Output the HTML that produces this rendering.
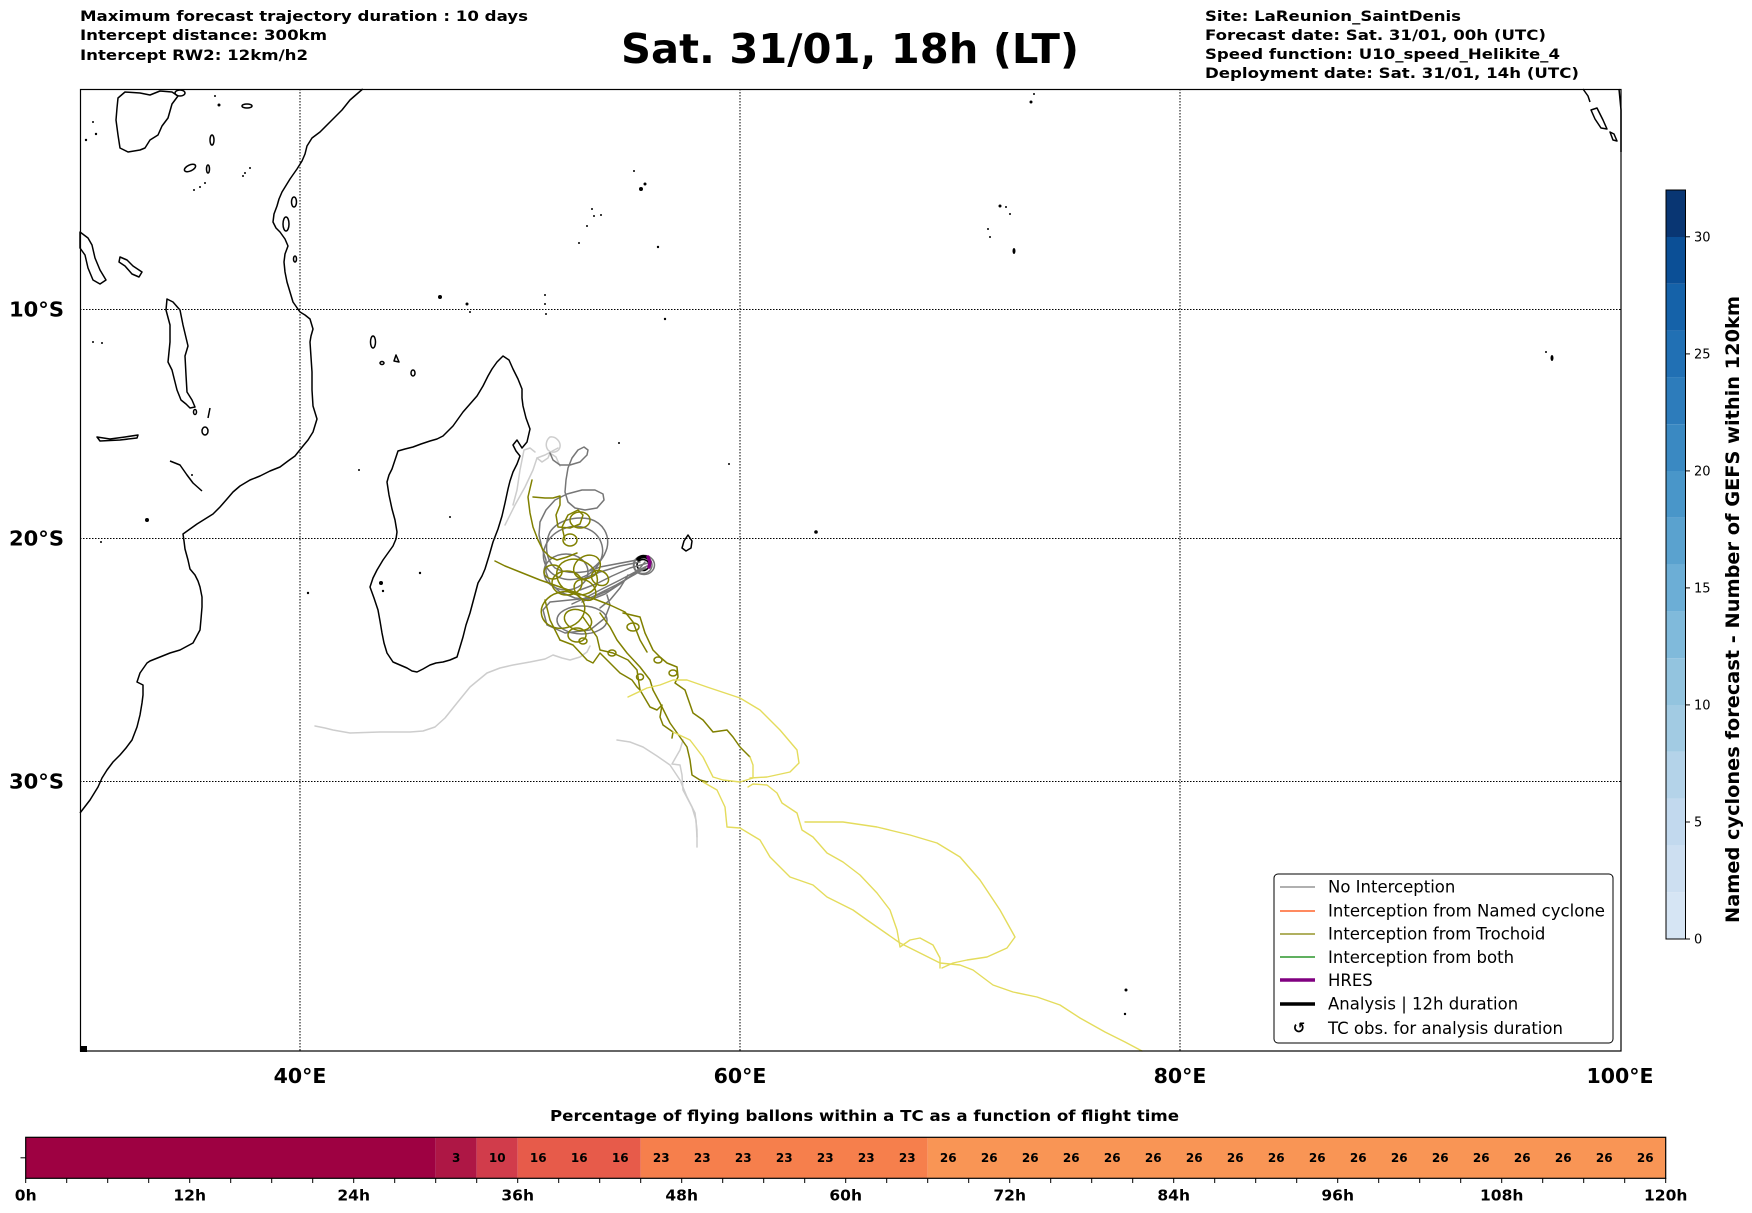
<!DOCTYPE html>
<html><head><meta charset="utf-8">
<style>
html,body{margin:0;padding:0;background:#fff;}
svg{display:block;}
text{font-family:"DejaVu Sans","Liberation Sans",sans-serif;}
.b{font-weight:bold;}
</style></head>
<body>
<svg width="1752" height="1213" viewBox="0 0 1752 1213" xmlns="http://www.w3.org/2000/svg">
<rect x="0" y="0" width="1752" height="1213" fill="#fff"/>

<!-- Header texts -->
<g class="b" font-size="14.5" fill="#000">
<text x="80" y="21" textLength="448" lengthAdjust="spacingAndGlyphs">Maximum forecast trajectory duration : 10 days</text>
<text x="80" y="40" textLength="247" lengthAdjust="spacingAndGlyphs">Intercept distance: 300km</text>
<text x="80" y="60" textLength="228" lengthAdjust="spacingAndGlyphs">Intercept RW2: 12km/h2</text>
<text x="1205" y="21" textLength="256" lengthAdjust="spacingAndGlyphs">Site: LaReunion_SaintDenis</text>
<text x="1205" y="40" textLength="341" lengthAdjust="spacingAndGlyphs">Forecast date: Sat. 31/01, 00h (UTC)</text>
<text x="1205" y="59" textLength="355" lengthAdjust="spacingAndGlyphs">Speed function: U10_speed_Helikite_4</text>
<text x="1205" y="78" textLength="374" lengthAdjust="spacingAndGlyphs">Deployment date: Sat. 31/01, 14h (UTC)</text>
</g>
<text class="b" x="621" y="63" font-size="41" textLength="458" lengthAdjust="spacingAndGlyphs">Sat. 31/01, 18h (LT)</text>

<!-- Gridlines -->
<g stroke="#000" stroke-width="1" stroke-dasharray="1.5,1.5" fill="none">
<line x1="300" y1="89" x2="300" y2="1051"/>
<line x1="740" y1="89" x2="740" y2="1051"/>
<line x1="1180" y1="89" x2="1180" y2="1051"/>
<line x1="80" y1="309.5" x2="1621" y2="309.5"/>
<line x1="80" y1="538.5" x2="1621" y2="538.5"/>
<line x1="80" y1="781.5" x2="1621" y2="781.5"/>
</g>

<!-- Coastlines -->
<g stroke="#000" stroke-width="1.5" fill="none" stroke-linejoin="round">
<polyline points="362.7,89 350,100 342,110 338,114 330,122 320,132 312,138 307,146 305,154 302,161 297,169 290,179 282,192 279,199 277,206 274,214 273,222 276,228 280,232 285,239 288,246 285,254 284,262 285,272 287,282 290,292 293,302 300,312 305,315 310,319 313,329 311,336 310,342 311,357 312,372 312,390 313,406 317,419 313,432 308,440 303,446 295,456 288,461 280,467 270,471 260,476 250,480 240,486 233,492 227,499 220,507 213,514 205,519 197,524 190,529 183,534 184,541 185,549 188,560 190,569 195,575 198,581 200,587 202,597 202,607 201,619 200,630 193,643 180,650 170,653 160,657 150,661 147,663 140,673 137,682 143,685 143,695 142,703 140,715 137,727 132,740 126,748 120,755 113,762 107,770 102,778 98,787 90,800 80,813"/>
<polygon points="503,356 509,360 513,369 518,379 522,389 522,398 523,406 526,418 530,429 527,442 522,448 517,440 513,445 516,451 520,456 517,464 513,472 510,481 508,489 505,503 502,516 498,529 493,542 489,556 485,569 482,576 478,583 474,598 470,613 466,625 463,637 460,647 457,657 450,660 443,662 436,663 430,665 423,669 417,672 412,671 407,668 400,665 393,662 387,653 384,643 382,633 380,621 378,610 374,598 370,587 373,578 377,570 383,560 388,553 393,546 396,539 397,532 395,520 392,509 389,495 387,482 389,475 392,469 395,460 398,451 405,449 413,447 421,444 430,441 437,439 443,436 448,431 453,426 458,419 463,412 470,404 477,396 483,386 488,376 492,369 497,362"/>
<!-- lakes -->
<polygon points="118,98 125,92 140,93 150,95 160,91 172,92 178,96 172,104 168,118 162,126 158,135 150,140 145,148 140,150 128,152 120,148 118,135 116,120 117,108"/>
<polygon points="80,232 88,238 92,245 95,258 100,270 106,280 100,284 93,280 88,268 85,255 80,248"/>
<polygon points="120,257 127,260 133,266 142,272 139,277 132,274 125,266 119,262"/>
<polygon points="167,299 173,302 180,310 183,325 188,346 185,356 186,375 187,392 192,400 195,407 190,408 186,404 181,400 177,390 175,382 172,370 168,362 170,342 170,325 166,310"/>
<polygon points="97,437 110,439 125,437 138,435 137,438 120,440 100,441"/>
<polyline points="170,461 180,465 187,475 193,483 202,491"/>
<ellipse cx="205" cy="431" rx="3" ry="4"/>
<ellipse cx="195" cy="412" rx="1.5" ry="2.5"/>
<line x1="210" y1="408" x2="208" y2="418"/>
<ellipse cx="190" cy="168" rx="6" ry="3" transform="rotate(-25 190 168)"/>
<ellipse cx="208" cy="169" rx="1.5" ry="4"/>
<ellipse cx="212" cy="140" rx="2" ry="5"/>
<ellipse cx="247" cy="106" rx="5" ry="2"/>
<ellipse cx="180" cy="93" rx="5" ry="3"/>
<!-- coastal islands -->
<ellipse cx="294" cy="202" rx="2.5" ry="5"/>
<ellipse cx="286" cy="224" rx="3" ry="7"/>
<ellipse cx="295" cy="259" rx="1.5" ry="3"/>
<!-- Comoros -->
<ellipse cx="373" cy="342" rx="2.5" ry="6"/>
<ellipse cx="382" cy="363" rx="2" ry="1.5"/>
<polygon points="396,355 399,362 394,361"/>
<ellipse cx="413" cy="373" rx="2" ry="3"/>
<!-- Mauritius -->
<polygon points="688,535 692,541 691,548 686,551 682,548 684,541"/>
<!-- Reunion -->
<ellipse cx="643" cy="565" rx="6" ry="5.5"/>
<!-- Sumatra area -->
<polyline points="1583,89 1588,96 1590,102"/>
<polygon points="1591,110 1597,108 1603,120 1607,129 1601,128 1595,119"/>
<polygon points="1610,132 1614,134 1617,141 1613,140"/>
<polyline points="1619,89 1621,110 1621,152"/>
</g>
<!-- tiny islands -->
<g fill="#000">
<rect x="80" y="1046" width="7" height="6"/>
<circle cx="641" cy="189" r="2"/><circle cx="634" cy="171" r="1"/><circle cx="645" cy="184" r="1.5"/>
<circle cx="592" cy="209" r="1"/><circle cx="594" cy="216" r="1"/><circle cx="601" cy="215" r="1"/><circle cx="587" cy="226" r="1"/><circle cx="579" cy="243" r="1"/><circle cx="658" cy="247" r="1.2"/>
<circle cx="665" cy="319" r="1.2"/>
<circle cx="1000" cy="206" r="1.5"/><circle cx="1006" cy="207" r="1"/><circle cx="1010" cy="214" r="1"/><circle cx="988" cy="229" r="1"/><circle cx="990" cy="237" r="1"/><ellipse cx="1014" cy="251" rx="1.5" ry="3"/>
<circle cx="1031" cy="102" r="1.5"/><circle cx="1034" cy="94" r="1"/>
<ellipse cx="1552" cy="358" rx="1.5" ry="3"/><circle cx="1546" cy="352" r="1"/>
<circle cx="1126" cy="990" r="1.5"/><circle cx="1125" cy="1014" r="1.2"/>
<circle cx="816" cy="532" r="1.8"/><circle cx="729" cy="464" r="1"/><circle cx="619" cy="443" r="1"/>
<circle cx="450" cy="517" r="1"/><circle cx="359" cy="470" r="1"/><circle cx="420" cy="573" r="1.2"/><circle cx="381" cy="583" r="2"/><circle cx="383" cy="591" r="1.2"/><circle cx="308" cy="593" r="1.2"/>
<circle cx="102" cy="343" r="1"/><circle cx="93" cy="342" r="1"/><circle cx="192" cy="475" r="1"/><circle cx="147" cy="520" r="2"/><circle cx="101" cy="542" r="1"/>
<circle cx="93" cy="122" r="1"/><circle cx="96" cy="134" r="1.2"/><circle cx="86" cy="140" r="1.2"/><circle cx="215" cy="96" r="1"/><circle cx="219" cy="105" r="1.5"/>
<circle cx="243" cy="176" r="1"/><circle cx="250" cy="168" r="1"/><circle cx="245" cy="173" r="1"/><circle cx="194" cy="190" r="1"/><circle cx="200" cy="187" r="1"/><circle cx="205" cy="183" r="1"/>
<circle cx="440" cy="297" r="2"/><circle cx="467" cy="304" r="1.5"/><circle cx="470" cy="312" r="1"/><circle cx="545" cy="295" r="1"/><circle cx="545" cy="304" r="1"/><circle cx="546" cy="314" r="1"/>
</g>

<!-- Trajectories -->
<g fill="none" stroke-linejoin="round" stroke-linecap="round">
<!-- light gray -->
<g stroke="#cdcdcd" stroke-width="1.5">
<path d="M550,437 C556,436 561,442 560,447 C559,452 552,454 548,450 C545,446 546,440 550,437"/>
<polyline points="558,448 545,455 537,458 533,470 525,487 515,505 505,525"/>
<polyline points="535,452 530,448 524,450 523,455 520,470 517,490 513,505"/>
<polyline points="537,458 542,462 548,458 550,453 556,457 560,466"/>
<polyline points="315,726 325,728 333,730 350,733 380,732 410,732 423,731 435,727 445,718 457,703 470,687 487,673 500,668 513,665 530,662 545,659 553,655 562,658 570,660 580,657 587,652 590,646"/>
<polyline points="617,740 630,742 643,747 657,756 670,765 680,780 687,797 695,813 697,830 697,847"/>
<polyline points="683,740 680,750 672,764 680,765 682,775 683,790 692,807 696,820 697,837"/>
</g>
<!-- dark gray -->
<g stroke="#767676" stroke-width="1.5">
<polyline points="550,453 553,460 560,465 570,465 580,462 587,455 588,450 584,447 578,450 572,458 568,468 566,480 565,492 568,502 575,508 585,510 597,508 604,500 603,494 595,490 582,490 567,494 555,500 546,510 540,522 539,535 542,548 546,560 546,572 550,583 560,592 575,598 590,600 605,594 620,584 632,575 640,568 645,562"/>
<path d="M637,560 L600,567 C590,572 570,576 555,568 C546,560 544,545 550,532 C558,520 575,516 590,519 C603,523 610,535 607,548 C604,558 598,565 590,570"/>
<ellipse cx="573" cy="553" rx="30" ry="26" transform="rotate(-20 573 553)"/>
<ellipse cx="566" cy="572" rx="22" ry="18"/>
<polyline points="645,567 625,580 610,590 590,598 570,600 550,602 543,610 547,625 565,633 590,630 605,618 610,605 607,595"/>
<polyline points="647,566 635,572 620,580 600,590 585,598 572,604"/>
<polyline points="646,568 632,576 616,585 598,594 582,602"/>
<polyline points="648,563 630,568 612,576 596,584 580,590"/>
<polyline points="640,562 620,566 600,572 585,578"/>
<polyline points="628,575 620,588 610,600 600,608"/>
<ellipse cx="643" cy="565" rx="9" ry="8.5"/>
<ellipse cx="644" cy="565" rx="10.5" ry="9.5"/>
<ellipse cx="582" cy="620" rx="25" ry="14"/>
</g>
<!-- olive -->
<g stroke="#808000" stroke-width="1.5">
<polyline points="495,561 505,566 520,572 540,580 560,587 577,593 597,600 610,605"/>
<polyline points="532,480 528,497 530,513 533,527 538,540 543,550 550,557 557,560 567,557 577,553"/>
<polyline points="533,497 545,498 553,498 560,496 560,505 556,515 558,527 570,528 580,524 583,515 578,510 568,515 562,527 565,540"/>
<ellipse cx="577" cy="577" rx="21" ry="17" transform="rotate(25 577 577)"/>
<ellipse cx="587" cy="567" rx="14" ry="11" transform="rotate(-30 587 567)"/>
<ellipse cx="567" cy="583" rx="15" ry="12"/>
<ellipse cx="585" cy="590" rx="12" ry="9" transform="rotate(40 585 590)"/>
<ellipse cx="563" cy="610" rx="22" ry="18" transform="rotate(-15 563 610)"/>
<ellipse cx="580" cy="520" rx="10" ry="8"/>
<ellipse cx="570" cy="540" rx="7" ry="6"/>
<ellipse cx="578" cy="620" rx="14" ry="10" transform="rotate(20 578 620)"/>
<ellipse cx="577" cy="635" rx="9" ry="7"/>
<ellipse cx="583" cy="641" rx="4" ry="3"/>
<ellipse cx="612" cy="653" rx="4" ry="3"/>
<ellipse cx="633" cy="627" rx="6" ry="4"/>
<ellipse cx="658" cy="660" rx="4" ry="3"/>
<ellipse cx="640" cy="677" rx="3.5" ry="3"/>
<ellipse cx="673" cy="673" rx="4" ry="3"/>
<ellipse cx="600" cy="578" rx="9" ry="7" transform="rotate(30 600 578)"/>
<ellipse cx="553" cy="572" rx="9" ry="7"/>
<polyline points="600,613 610,627 617,640 627,653 640,667 650,680 653,690 660,703 670,723 675,730 687,747 690,760 692,775 700,780 707,782"/>
<polyline points="583,617 597,637 600,650 613,653 628,660 637,670 640,690 650,707 657,710 662,705 660,717 663,725 673,732 672,738"/>
<polyline points="623,613 640,617 645,633 653,650 660,657 667,663 677,667 678,677 675,683 685,690 693,713 703,720 713,732 727,730 733,737 740,747 750,757"/>
<polyline points="560,640 573,645 587,660 593,663 600,653 620,673 632,680 637,687 640,690"/>
<polyline points="545,600 550,620 560,640"/>
<polyline points="610,605 625,612 633,622 640,640 647,652"/>
</g>
<!-- yellow -->
<g stroke="#e4dc5c" stroke-width="1.4">
<polyline points="628,697 647,688 660,685 673,680 687,680 707,687 740,698 760,710 780,730 797,750 799,763 790,772 767,777 750,778"/>
<polyline points="673,732 690,740 703,757 713,777 723,780 740,782 753,778 753,765 750,757"/>
<polyline points="703,782 717,790 725,807 727,827 740,828 760,840 770,857 790,877 813,885 827,897 853,910 867,920 900,943 920,953 940,963 960,965 973,970 993,985 1013,992 1037,997 1060,1005 1080,1018 1105,1032 1125,1042 1142,1051"/>
<polyline points="748,787 753,784 767,785 777,793 782,803 797,813 802,830 813,837 827,853 843,862 860,875 877,893 890,910 897,930 900,947 910,940 920,938 933,945 940,958 940,968"/>
<polyline points="805,822 843,822 877,827 910,835 937,843 960,857 980,880 1000,910 1015,937 1007,948 987,957 967,960 953,963 942,968"/>
</g>
<!-- Analysis & HRES -->
<path d="M638,559 C641,556 645,556 648,558" stroke="#000" stroke-width="3.5"/>
<path d="M648,557 L650,562 L649,567" stroke="#800080" stroke-width="3.5"/>
</g>

<!-- Map frame -->
<rect x="80.5" y="89.5" width="1540.5" height="961.5" fill="none" stroke="#000" stroke-width="1.2"/>

<!-- Legend -->
<rect x="1274" y="874" width="339" height="169" rx="4" ry="4" fill="#fff" stroke="#000" stroke-width="1"/>
<g stroke-width="1.2">
<line x1="1280" y1="887" x2="1315" y2="887" stroke="#808080"/>
<line x1="1280" y1="911" x2="1315" y2="911" stroke="#ff4500"/>
<line x1="1280" y1="934" x2="1315" y2="934" stroke="#808000"/>
<line x1="1280" y1="957" x2="1315" y2="957" stroke="#008000"/>
<line x1="1280" y1="980" x2="1315" y2="980" stroke="#800080" stroke-width="3.5"/>
<line x1="1280" y1="1004" x2="1315" y2="1004" stroke="#000" stroke-width="3.5"/>
</g>
<text class="b" x="1299" y="1033" font-size="15" text-anchor="middle">↺</text>
<g font-size="16.5" fill="#000">
<text x="1328" y="892.5">No Interception</text>
<text x="1328" y="916.5" textLength="277" lengthAdjust="spacingAndGlyphs">Interception from Named cyclone</text>
<text x="1328" y="939.5">Interception from Trochoid</text>
<text x="1328" y="963">Interception from both</text>
<text x="1328" y="986">HRES</text>
<text x="1328" y="1009.5">Analysis | 12h duration</text>
<text x="1328" y="1034">TC obs. for analysis duration</text>
</g>

<!-- Axis labels -->
<g class="b" font-size="20.5">
<text x="9" y="316.5" textLength="55" lengthAdjust="spacingAndGlyphs">10°S</text>
<text x="9" y="545.5" textLength="55" lengthAdjust="spacingAndGlyphs">20°S</text>
<text x="9" y="788.5" textLength="55" lengthAdjust="spacingAndGlyphs">30°S</text>
<text x="300" y="1083" text-anchor="middle">40°E</text>
<text x="740" y="1083" text-anchor="middle">60°E</text>
<text x="1180" y="1083" text-anchor="middle">80°E</text>
<text x="1620" y="1083" text-anchor="middle">100°E</text>
</g>

<!-- Colorbar -->
<g>
<rect x="1666" y="892.2" width="19.5" height="46.8" fill="#d6e5f4"/>
<rect x="1666" y="845.4" width="19.5" height="46.8" fill="#cddff1"/>
<rect x="1666" y="798.6" width="19.5" height="46.8" fill="#c2d9ee"/>
<rect x="1666" y="751.8" width="19.5" height="46.8" fill="#b4d3e9"/>
<rect x="1666" y="705.0" width="19.5" height="46.8" fill="#a2cbe3"/>
<rect x="1666" y="658.2" width="19.5" height="46.8" fill="#93c4df"/>
<rect x="1666" y="611.4" width="19.5" height="46.8" fill="#80badb"/>
<rect x="1666" y="564.6" width="19.5" height="46.8" fill="#6caed6"/>
<rect x="1666" y="517.8" width="19.5" height="46.8" fill="#5aa2cf"/>
<rect x="1666" y="471.0" width="19.5" height="46.8" fill="#4996c9"/>
<rect x="1666" y="424.2" width="19.5" height="46.8" fill="#3a89c2"/>
<rect x="1666" y="377.4" width="19.5" height="46.8" fill="#2d7cbb"/>
<rect x="1666" y="330.6" width="19.5" height="46.8" fill="#2170b4"/>
<rect x="1666" y="283.8" width="19.5" height="46.8" fill="#1562a9"/>
<rect x="1666" y="237.0" width="19.5" height="46.8" fill="#0b4f96"/>
<rect x="1666" y="190.2" width="19.5" height="46.8" fill="#093673"/>
<rect x="1666" y="190" width="19.5" height="749" fill="none" stroke="#000" stroke-width="1"/>
<g stroke="#000" stroke-width="1">
<line x1="1685.5" y1="939" x2="1690" y2="939"/>
<line x1="1685.5" y1="822" x2="1690" y2="822"/>
<line x1="1685.5" y1="704.9" x2="1690" y2="704.9"/>
<line x1="1685.5" y1="587.9" x2="1690" y2="587.9"/>
<line x1="1685.5" y1="470.9" x2="1690" y2="470.9"/>
<line x1="1685.5" y1="353.9" x2="1690" y2="353.9"/>
<line x1="1685.5" y1="236.8" x2="1690" y2="236.8"/>
</g>
<g font-size="13">
<text x="1694" y="943.5">0</text>
<text x="1694" y="826.5">5</text>
<text x="1694" y="709.4">10</text>
<text x="1694" y="592.4">15</text>
<text x="1694" y="475.4">20</text>
<text x="1694" y="358.4">25</text>
<text x="1694" y="241.3">30</text>
</g>
<text class="b" font-size="19" transform="translate(1739,609.5) rotate(-90)" text-anchor="middle" textLength="627" lengthAdjust="spacingAndGlyphs">Named cyclones forecast - Number of GEFS within 120km</text>
</g>

<!-- Bottom bar -->
<text class="b" x="550" y="1121" font-size="15" textLength="629" lengthAdjust="spacingAndGlyphs">Percentage of flying ballons within a TC as a function of flight time</text>
<g>
<rect x="25.7" y="1137.3" width="410" height="41" fill="#9e0142"/>
<rect x="435.7" y="1137.3" width="41" height="41" fill="#ae1745"/>
<rect x="476.7" y="1137.3" width="41" height="41" fill="#d13c4b"/>
<rect x="517.7" y="1137.3" width="123" height="41" fill="#e75b4a"/>
<rect x="640.7" y="1137.3" width="287" height="41" fill="#f67f4c"/>
<rect x="927.7" y="1137.3" width="738" height="41" fill="#f99555"/>
<rect x="25.7" y="1137.3" width="1640" height="41" fill="none" stroke="#000" stroke-width="1.2"/>
<line x1="20.5" y1="1157.8" x2="25.7" y2="1157.8" stroke="#000" stroke-width="1"/>
<path stroke="#000" stroke-width="1" d="M25.7,1178V1183M66.7,1178V1183M107.7,1178V1183M148.7,1178V1183M189.7,1178V1183M230.7,1178V1183M271.7,1178V1183M312.7,1178V1183M353.7,1178V1183M394.7,1178V1183M435.7,1178V1183M476.7,1178V1183M517.7,1178V1183M558.7,1178V1183M599.7,1178V1183M640.7,1178V1183M681.7,1178V1183M722.7,1178V1183M763.7,1178V1183M804.7,1178V1183M845.7,1178V1183M886.7,1178V1183M927.7,1178V1183M968.7,1178V1183M1009.7,1178V1183M1050.7,1178V1183M1091.7,1178V1183M1132.7,1178V1183M1173.7,1178V1183M1214.7,1178V1183M1255.7,1178V1183M1296.7,1178V1183M1337.7,1178V1183M1378.7,1178V1183M1419.7,1178V1183M1460.7,1178V1183M1501.7,1178V1183M1542.7,1178V1183M1583.7,1178V1183M1624.7,1178V1183M1665.7,1178V1183"/>
<g class="b" font-size="12" text-anchor="middle">
<text x="456.2" y="1162">3</text>
<text x="497.2" y="1162">10</text>
<text x="538.2" y="1162">16</text>
<text x="579.2" y="1162">16</text>
<text x="620.2" y="1162">16</text>
<text x="661.2" y="1162">23</text>
<text x="702.2" y="1162">23</text>
<text x="743.2" y="1162">23</text>
<text x="784.2" y="1162">23</text>
<text x="825.2" y="1162">23</text>
<text x="866.2" y="1162">23</text>
<text x="907.2" y="1162">23</text>
<text x="948.2" y="1162">26</text>
<text x="989.2" y="1162">26</text>
<text x="1030.2" y="1162">26</text>
<text x="1071.2" y="1162">26</text>
<text x="1112.2" y="1162">26</text>
<text x="1153.2" y="1162">26</text>
<text x="1194.2" y="1162">26</text>
<text x="1235.2" y="1162">26</text>
<text x="1276.2" y="1162">26</text>
<text x="1317.2" y="1162">26</text>
<text x="1358.2" y="1162">26</text>
<text x="1399.2" y="1162">26</text>
<text x="1440.2" y="1162">26</text>
<text x="1481.2" y="1162">26</text>
<text x="1522.2" y="1162">26</text>
<text x="1563.2" y="1162">26</text>
<text x="1604.2" y="1162">26</text>
<text x="1645.2" y="1162">26</text>
</g>
<g class="b" font-size="15.5" text-anchor="middle">
<text x="25.7" y="1200.5">0h</text>
<text x="189.7" y="1200.5">12h</text>
<text x="353.7" y="1200.5">24h</text>
<text x="517.7" y="1200.5">36h</text>
<text x="681.7" y="1200.5">48h</text>
<text x="845.7" y="1200.5">60h</text>
<text x="1009.7" y="1200.5">72h</text>
<text x="1173.7" y="1200.5">84h</text>
<text x="1337.7" y="1200.5">96h</text>
<text x="1501.7" y="1200.5">108h</text>
<text x="1665.7" y="1200.5">120h</text>
</g>
</g>
</svg>
</body></html>
